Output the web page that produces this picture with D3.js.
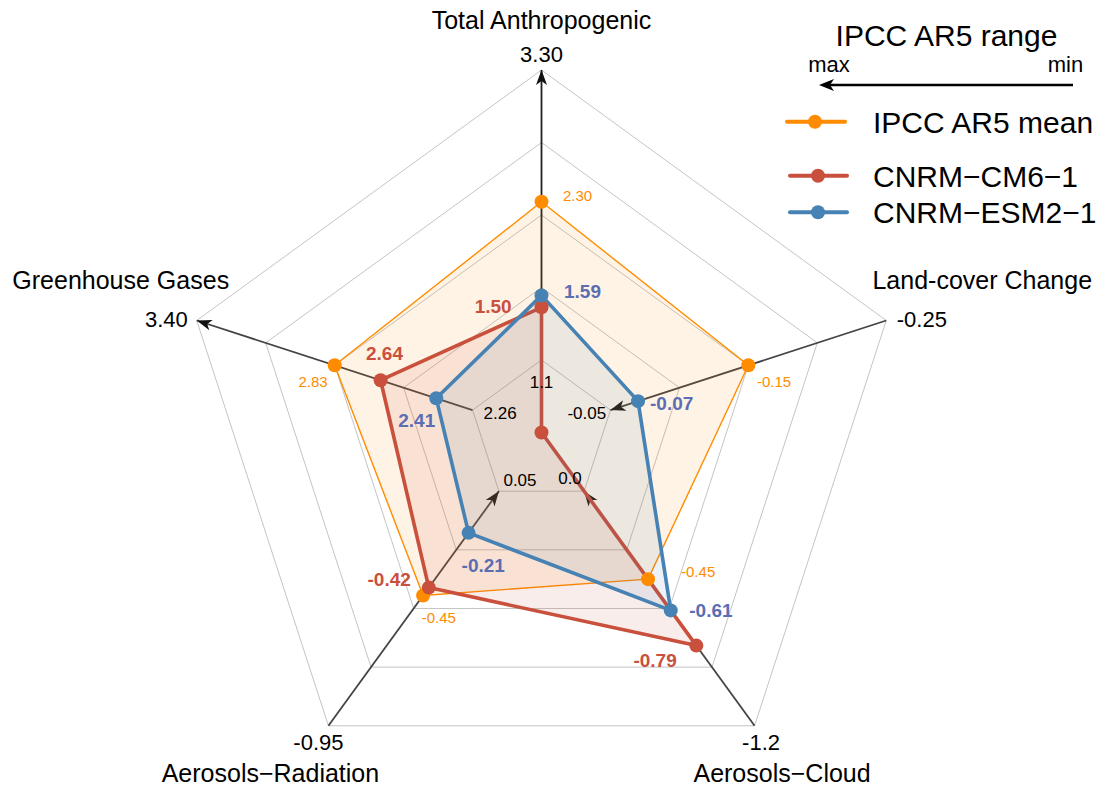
<!DOCTYPE html>
<html><head><meta charset="utf-8">
<script src="https://cdn.jsdelivr.net/npm/d3@7"></script>
<style>
body{margin:0;background:#fff}
svg{display:block}
text{font-family:"Liberation Sans",Arial,Helvetica,sans-serif}
</style>
</head><body>
<svg id="chart" width="1100" height="788"></svg>
<script>
// ---------------- DATA ----------------
const axisNames = ["Total Anthropogenic", "Greenhouse Gases", "Aerosols\u2212Radiation", "Aerosols\u2212Cloud", "Land-cover Change"];
const outerValues = [3.30, 3.40, -0.95, -1.2, -0.25];
const innerValues = [1.1, 2.26, -0.05, 0.0, -0.05];
const outerTickLabels = ["3.30", "3.40", "-0.95", "-1.2", "-0.25"];
const innerTickLabels = ["1.1", "2.26", "0.05", "0.0", "-0.05"];

const seriesNames = ["IPCC AR5 mean", "CNRM\u2212CM6\u22121", "CNRM\u2212ESM2\u22121"];
const ipccMean = [2.30, 2.83, -0.45, -0.45, -0.15];
const cnrmCM6 = [1.50, 2.64, -0.42, -0.79, 0.00];
const cnrmESM2 = [1.59, 2.41, -0.21, -0.61, -0.07];
const ipccMeanLabels = ["2.30", "2.83", "-0.45", "-0.45", "-0.15"];
const cnrmCM6Labels = ["1.50", "2.64", "-0.42", "-0.79", ""];
const cnrmESM2Labels = ["1.59", "2.41", "-0.21", "-0.61", "-0.07"];

// ---------------- LAYOUT ----------------
const svg = d3.select("#chart");
const cx = 541.5, cy = 432.5, R = 362.5, nLevels = 5;
const n = axisNames.length;
const angle = i => Math.PI / 2 + i * 2 * Math.PI / n;
const pt = (i, r) => [cx + r * Math.cos(angle(i)), cy - r * Math.sin(angle(i))];
const scales = axisNames.map((_, i) =>
  d3.scaleLinear().domain([innerValues[i], outerValues[i]]).range([R / nLevels, R]));
const closed = d3.line().curve(d3.curveLinearClosed);

const styles = [
  {color: "#FF8C00", lw: 1.4, fillOp: 0.10, labelColor: "#FF8C00", labelSize: 15, labelWeight: "normal", r: 7},
  {color: "#C9503C", lw: 3.6, fillOp: 0.10, labelColor: "#C9503C", labelSize: 19, labelWeight: "bold", r: 7},
  {color: "#4682B4", lw: 3.6, fillOp: 0.10, labelColor: "#5B6DB3", labelSize: 19, labelWeight: "bold", r: 7}
];
// value label offsets from the point: [dx, dy, anchor]
const labelOffsets = [
  [[21.5, -6, "start"], [-7, 16, "end"], [-1.4, 22.6, "start"], [33, -7, "start"], [8.6, 16, "start"]],
  [[-29.8, -0.6, "end"], [3.9, -27, "middle"], [-18, -8.6, "end"], [-19.6, 14.4, "end"], [0, 0, "start"]],
  [[22.5, -3.7, "start"], [-1, 22, "end"], [-7, 32, "start"], [18.5, 0, "start"], [12, 2, "start"]]
];

// ---------------- GRID ----------------
const gridG = svg.append("g");
d3.range(1, nLevels + 1).forEach(k => {
  gridG.append("path")
    .attr("d", closed(d3.range(n).map(i => pt(i, R * k / nLevels))))
    .attr("fill", "none").attr("stroke", "#c4c4c4").attr("stroke-width", 1);
});

// ---------------- AXES ----------------
const arrowPath = "M0,0 L-15,-5.5 L-11,0 L-15,5.5 Z";
const axG = svg.append("g");
axisNames.forEach((name, i) => {
  const p0 = pt(i, scales[i](innerValues[i]));
  const p1 = pt(i, scales[i](outerValues[i]));
  axG.append("line").attr("x1", p0[0]).attr("y1", p0[1]).attr("x2", p1[0]).attr("y2", p1[1])
    .attr("stroke", i === 0 ? "#222" : "#444").attr("stroke-width", 1.8);
  const toOuter = outerValues[i] > innerValues[i];
  const tip = toOuter ? p1 : p0, from = toOuter ? p0 : p1;
  const ang = Math.atan2(tip[1] - from[1], tip[0] - from[0]) * 180 / Math.PI;
  axG.append("path").attr("d", arrowPath)
    .attr("transform", `translate(${tip[0]},${tip[1]}) rotate(${ang})`)
    .attr("fill", "#111");
});

// ---------------- SERIES ----------------
const allSeries = [ipccMean, cnrmCM6, cnrmESM2];
const allLabels = [ipccMeanLabels, cnrmCM6Labels, cnrmESM2Labels];
const serG = svg.append("g");
allSeries.forEach((vals, s) => {
  const pts = vals.map((v, i) => pt(i, scales[i](v)));
  const st = styles[s];
  serG.append("path").attr("d", closed(pts))
    .attr("fill", st.color).attr("fill-opacity", st.fillOp)
    .attr("stroke", st.color).attr("stroke-width", st.lw).attr("stroke-linejoin", "round");
});
allSeries.forEach((vals, s) => {
  const st = styles[s];
  serG.selectAll(null).data(vals).enter().append("circle")
    .attr("cx", (v, i) => pt(i, scales[i](v))[0])
    .attr("cy", (v, i) => pt(i, scales[i](v))[1])
    .attr("r", st.r).attr("fill", st.color);
});

// value labels
const labG = svg.append("g");
allSeries.forEach((vals, s) => {
  const st = styles[s];
  vals.forEach((v, i) => {
    const txt = allLabels[s][i];
    if (!txt) return;
    const p = pt(i, scales[i](v));
    const o = labelOffsets[s][i];
    labG.append("text").attr("x", p[0] + o[0]).attr("y", p[1] + o[1]).attr("dy", "0.35em")
      .attr("text-anchor", o[2]).attr("fill", st.labelColor)
      .attr("font-size", st.labelSize).attr("font-weight", st.labelWeight).text(txt);
  });
});

// inner tick labels (offset from the inner vertex)
const innerOffsets = [[0, 27.8], [27.5, 8.7], [21.1, -5.2], [-14.1, -7.2], [-23.7, 9]];
innerTickLabels.forEach((t, i) => {
  const p = pt(i, R / nLevels);
  labG.append("text").attr("x", p[0] + innerOffsets[i][0]).attr("y", p[1] + innerOffsets[i][1])
    .attr("text-anchor", "middle").attr("font-size", 17).attr("fill", "#000").text(t);
});

// outer tick labels and axis names: [dx, baselineDy, anchor] from outer tip
const outerOffsets = [[0, -7.7, "middle"], [-9, 6.5, "end"], [-10, 24, "middle"], [6.5, 24, "middle"], [10.5, 6.5, "start"]];
const nameOffsets = [[0, -40.7, "middle"], [-76, -31.5, "middle"], [-58, 56.5, "middle"], [27.5, 56.5, "middle"], [96, -31.5, "middle"]];
axisNames.forEach((name, i) => {
  const p = pt(i, R);
  labG.append("text").attr("x", p[0] + outerOffsets[i][0]).attr("y", p[1] + outerOffsets[i][1])
    .attr("text-anchor", outerOffsets[i][2]).attr("font-size", 22).text(outerTickLabels[i]);
  labG.append("text").attr("x", p[0] + nameOffsets[i][0]).attr("y", p[1] + nameOffsets[i][1])
    .attr("text-anchor", nameOffsets[i][2]).attr("font-size", 25).text(name);
});

// ---------------- LEGEND ----------------
const lg = svg.append("g");
lg.append("text").attr("x", 946.5).attr("y", 46).attr("text-anchor", "middle")
  .attr("font-size", 30).text("IPCC AR5 range");
lg.append("text").attr("x", 829).attr("y", 71.7).attr("text-anchor", "middle").attr("font-size", 22).text("max");
lg.append("text").attr("x", 1065.5).attr("y", 71.7).attr("text-anchor", "middle").attr("font-size", 22).text("min");
lg.append("line").attr("x1", 1073).attr("y1", 85).attr("x2", 825).attr("y2", 85)
  .attr("stroke", "#000").attr("stroke-width", 2.5);
lg.append("path").attr("d", "M0,0 L-15,-6 L-11,0 L-15,6 Z")
  .attr("transform", "translate(819,85) rotate(180)").attr("fill", "#000");
const legY = [121.7, 175.7, 212.3];
const legX = [[787, 845, 815], [790, 847, 818], [790, 847, 818]];
seriesNames.forEach((nm, s) => {
  const st = styles[s];
  lg.append("line").attr("x1", legX[s][0]).attr("x2", legX[s][1]).attr("y1", legY[s]).attr("y2", legY[s])
    .attr("stroke", st.color).attr("stroke-width", 4).attr("stroke-linecap", "round");
  lg.append("circle").attr("cx", legX[s][2]).attr("cy", legY[s]).attr("r", 7).attr("fill", st.color);
  lg.append("text").attr("x", 873).attr("y", legY[s]).attr("dy", "0.36em")
    .attr("font-size", 30).text(nm);
});
</script>
</body></html>
